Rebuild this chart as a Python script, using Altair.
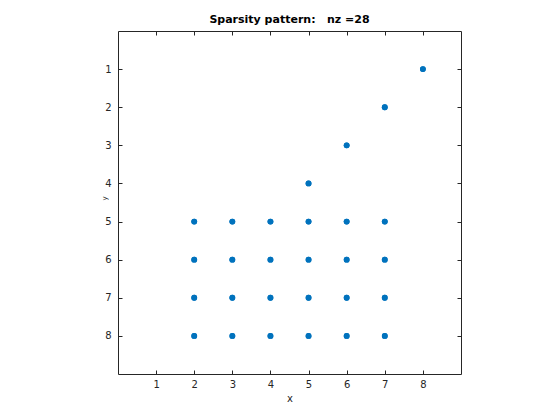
import altair as alt
import pandas as pd

cols = [8, 7, 6, 5] + [2, 3, 4, 5, 6, 7] * 4
rows = [1, 2, 3, 4] + [5] * 6 + [6] * 6 + [7] * 6 + [8] * 6
ticks = [1, 2, 3, 4, 5, 6, 7, 8]

df = pd.DataFrame({"col": cols, "row": rows})

W, H = 343, 343
TS = 4
FONT = "DejaVu Sans"
TXT = "#262626"

xs = alt.Scale(domain=[0, 9], nice=False, zero=False)
ys = alt.Scale(domain=[0, 9], nice=False, zero=False, reverse=True)

main = alt.Chart(df).mark_circle(size=34, color="#0072BD", opacity=1).encode(
    x=alt.X("col:Q", scale=xs, axis=alt.Axis(
        orient="bottom", values=ticks, offset=-TS, tickSize=TS, domain=False,
        grid=False, labelPadding=5, title="x", titleFontWeight="normal",
        titleFontSize=10, titlePadding=4, labelFont=FONT, titleFont=FONT,
        labelColor=TXT, titleColor=TXT, tickColor=TXT, labelFontSize=10)),
    y=alt.Y("row:Q", scale=ys, axis=alt.Axis(
        orient="left", values=ticks, offset=-TS, tickSize=TS, domain=False,
        grid=False, labelPadding=7, title="y", titleFontWeight="normal",
        titleFontSize=7, titlePadding=-3, titleY=167, labelFont=FONT, titleFont=FONT,
        labelColor=TXT, titleColor=TXT, tickColor=TXT, labelFontSize=10)),
)

mirror = alt.Chart(df).mark_circle(size=34, color="#0072BD", opacity=1).encode(
    x=alt.X("col:Q", scale=xs, axis=alt.Axis(
        orient="top", values=ticks, offset=-TS, tickSize=TS, domain=False,
        grid=False, labels=False, title=None, tickColor=TXT)),
    y=alt.Y("row:Q", scale=ys, axis=alt.Axis(
        orient="right", values=ticks, offset=-TS, tickSize=TS, domain=False,
        grid=False, labels=False, title=None, tickColor=TXT)),
)

chart = alt.layer(main, mirror).resolve_axis(
    x="independent", y="independent"
).properties(
    width=W, height=H,
    title=alt.Title("Sparsity pattern:\u00a0\u00a0\u00a0nz =28", font=FONT, fontSize=11,
                    fontWeight="bold", color="black", anchor="middle", offset=6),
    autosize=alt.AutoSizeParams(type="none"),
    padding={"left": 110, "top": 23, "right": 90, "bottom": 40},
).configure(background="white").configure_view(stroke=TXT, strokeWidth=1)

chart.save("out.html", embed_options={"renderer": "svg", "actions": False})
